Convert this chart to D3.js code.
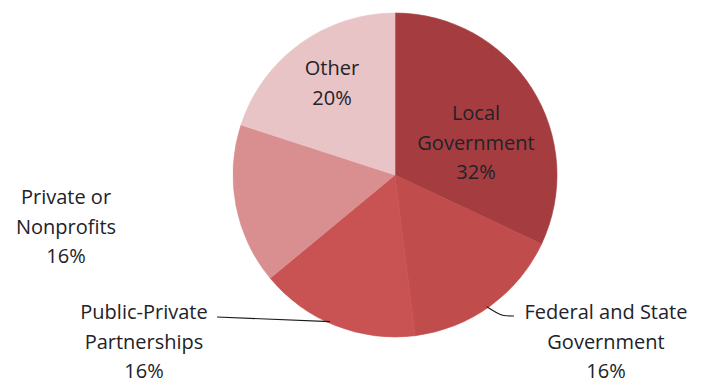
<!DOCTYPE html>
<html>
<head>
<meta charset="utf-8">
<script src="https://cdn.jsdelivr.net/npm/d3@7"></script>
<style>
  html, body { margin: 0; padding: 0; background: #ffffff; }
  svg { display: block; }
</style>
</head>
<body>
<svg id="chart" width="711" height="383"></svg>
<script>
// Funding sources, clockwise from 12 o'clock
const categories = ["Local Government", "Federal and State Government", "Public-Private Partnerships", "Private or Nonprofits", "Other"];
const shares = [32, 16, 16, 16, 20];
const labelLines = [
  ["Local", "Government"],
  ["Federal and State", "Government"],
  ["Public-Private", "Partnerships"],
  ["Private or", "Nonprofits"],
  ["Other"]
];
const sliceColors = ["#a53d40", "#c04c4c", "#c85352", "#d98f90", "#e9c4c7"];

const svg = d3.select("#chart");
const cx = 395, cy = 175, radius = 162;

const data = categories.map((c, i) => ({ name: c, value: shares[i], lines: labelLines[i], color: sliceColors[i] }));

const pie = d3.pie().value(d => d.value).sort(null).startAngle(0).endAngle(2 * Math.PI);
const arc = d3.arc().innerRadius(0).outerRadius(radius);
const arcs = pie(data);

const g = svg.append("g").attr("transform", `translate(${cx},${cy})`);
g.selectAll("path.slice")
  .data(arcs)
  .join("path")
  .attr("class", "slice")
  .attr("d", arc)
  .attr("fill", d => d.data.color)
  .attr("stroke", d => d.data.color)
  .attr("stroke-width", 0.6);

// Label anchors (center of first text line), in page coordinates
const labelPos = [
  { x: 476, y: 113 },
  { x: 606, y: 312 },
  { x: 144, y: 312 },
  { x: 66,  y: 197 },
  { x: 332, y: 68 }
];
const lineGap = 29.5;

const labels = svg.append("g")
  .attr("font-family", "'Open Sans', 'Noto Sans', sans-serif")
  .attr("font-size", 20)
  .attr("fill", "#222228")
  .attr("text-anchor", "middle");

arcs.forEach((a, i) => {
  const p = labelPos[i];
  const lines = a.data.lines.concat([a.data.value + "%"]);
  const t = labels.append("text");
  lines.forEach((ln, j) => {
    t.append("tspan")
      .attr("x", p.x)
      .attr("y", p.y + j * lineGap)
      .attr("dy", "0.35em")
      .text(ln);
  });
});

// Leader lines for the two outside labels
const leader = d3.line().curve(d3.curveBasis);
function edgePoint(a, frac) {
  const ang = a.startAngle + (a.endAngle - a.startAngle) * frac;
  return [cx + radius * Math.sin(ang) * 0.99, cy - radius * Math.cos(ang) * 0.99];
}
const fedEdge = edgePoint(arcs[1], 0.52);
const ppEdge = edgePoint(arcs[2], 0.54);
svg.append("path")
  .attr("d", leader([fedEdge, [497, 313], [503, 316], [514, 316]]))
  .attr("fill", "none").attr("stroke", "#1a1a1a").attr("stroke-width", 1.1);
svg.append("path")
  .attr("d", d3.line()([[217, 317], ppEdge]))
  .attr("fill", "none").attr("stroke", "#1a1a1a").attr("stroke-width", 1.1);
</script>
</body>
</html>
